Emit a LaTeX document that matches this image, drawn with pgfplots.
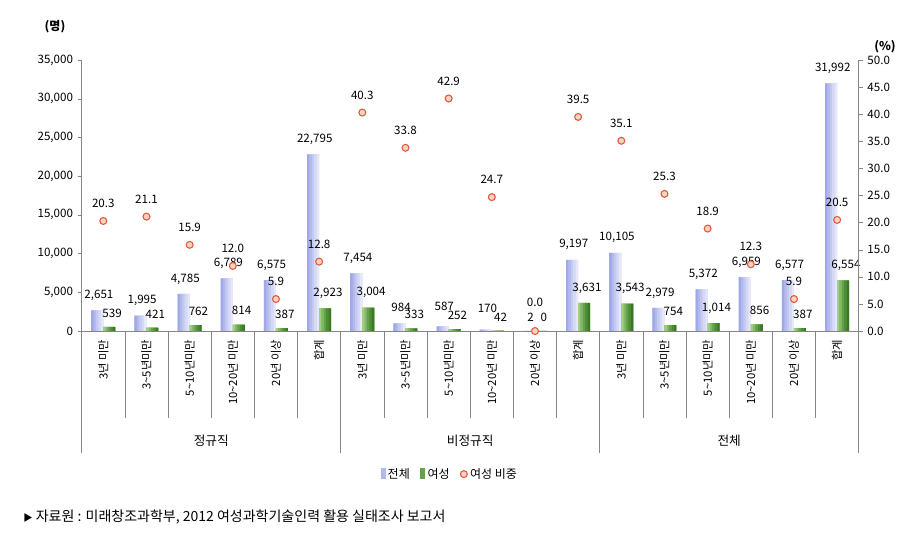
\documentclass[border=0pt]{standalone}
\usepackage{fontspec}
\setmainfont{Noto Sans CJK KR}
\usepackage{pgfplots}
\usepackage{pgfplotstable}
\pgfplotsset{compat=1.18}
\definecolor{axgray}{HTML}{868686}
\definecolor{bA}{HTML}{A0A8E8}
\definecolor{bB}{HTML}{B2B9EC}
\definecolor{bC}{HTML}{C3C9F1}
\definecolor{bD}{HTML}{D5D9F5}
\definecolor{bE}{HTML}{E6E8FA}
\definecolor{gA}{HTML}{A0CE82}
\definecolor{gB}{HTML}{82B866}
\definecolor{gC}{HTML}{64A24A}
\definecolor{gD}{HTML}{4D8D35}
\definecolor{gE}{HTML}{3A7824}
\definecolor{mkdraw}{HTML}{E2583A}
\definecolor{mkfill}{HTML}{FAD2C2}
\newcommand\fnum{\fontsize{8.7}{10}\selectfont}
\newcommand\tl{\textasciitilde}
\pgfplotstableread{
x total women ratio dyb dyg dyr
0 2651 539 20.3 0 0 0
1 1995 421 21.1 0 0 0
2 4785 762 15.9 0 0 0
3 6789 814 12.0 0 0 0
4 6575 387 5.9 0 0 0
5 22795 2923 12.8 0 0 0
6 7454 3004 40.3 0 0 0
7 984 333 33.8 1.5 0 0
8 587 252 42.9 5 0 0
9 170 42 24.7 5.5 0 0
10 2 0 0.0 0 0 8
11 9197 3631 39.5 0 0 0
12 10105 3543 35.1 0 0 0
13 2979 754 25.3 0 0 0
14 5372 1014 18.9 0 0 0
15 6959 856 12.3 0 0 0
16 6577 387 5.9 0 0 0
17 31992 6554 20.5 0 0 0
}\data
\begin{document}
\begin{tikzpicture}[x=1pt,y=1pt]
\useasboundingbox (0,0) rectangle (690,406.5);
\begin{axis}[
  at={(61.3pt,158.25pt)}, anchor=south west,
  scale only axis, width=582.75pt, height=203.25pt,
  xmin=-0.5, xmax=17.5, ymin=0, ymax=35000,
  axis x line*=bottom, axis y line*=left,
  axis line style={axgray, line width=0.6pt},
  ytick={0,5000,...,35000}, scaled y ticks=false,
  y tick style={axgray}, tick align=outside, major tick length=3pt,
  xtick={0,...,17}, x tick style={draw=none},
  xticklabels={3년 미만,3\tl5년미만,5\tl10년미만,10\tl20년 미만,20년 이상,합계,
               3년 미만,3\tl5년미만,5\tl10년미만,10\tl20년 미만,20년 이상,합계,
               3년 미만,3\tl5년미만,5\tl10년미만,10\tl20년 미만,20년 이상,합계},
  xticklabel style={rotate=90, anchor=east, font=\fontsize{8.5}{9}\selectfont},
  yticklabel style={font=\fnum},
  clip=false,
  /pgf/number format/1000 sep={,},
  /pgf/number format/assume math mode=true,
]
% blue bars (total)
\addplot[ybar, bar width=9pt, bar shift=-4.5pt, draw=none, fill=bC,
  visualization depends on={\thisrow{dyb} \as \dyb},
  nodes near coords, nodes near coords style={font=\fnum, inner sep=1pt, anchor=south, xshift=-3.3pt, yshift={(6+\dyb)*1pt}, text=black}]
  table[x=x,y=total]{\data};
\addplot[ybar, bar width=2pt, bar shift=-8.1pt, draw=none, fill=bA] table[x=x,y=total]{\data};
\addplot[ybar, bar width=2pt, bar shift=-6.3pt, draw=none, fill=bB] table[x=x,y=total]{\data};
\addplot[ybar, bar width=2pt, bar shift=-4.5pt, draw=none, fill=bC] table[x=x,y=total]{\data};
\addplot[ybar, bar width=2pt, bar shift=-2.7pt, draw=none, fill=bD] table[x=x,y=total]{\data};
\addplot[ybar, bar width=1.8pt, bar shift=-0.9pt, draw=none, fill=bE] table[x=x,y=total]{\data};
% green bars (women)
\addplot[ybar, bar width=9pt, bar shift=4.5pt, draw=none, fill=gC,
  visualization depends on={\thisrow{dyg} \as \dyg},
  nodes near coords, nodes near coords style={font=\fnum, inner sep=1pt, anchor=south, xshift=6.6pt, yshift={(6+\dyg)*1pt}, text=black}]
  table[x=x,y=women]{\data};
\addplot[ybar, bar width=2pt, bar shift=0.9pt, draw=none, fill=gA] table[x=x,y=women]{\data};
\addplot[ybar, bar width=2pt, bar shift=2.7pt, draw=none, fill=gB] table[x=x,y=women]{\data};
\addplot[ybar, bar width=2pt, bar shift=4.5pt, draw=none, fill=gC] table[x=x,y=women]{\data};
\addplot[ybar, bar width=2pt, bar shift=6.3pt, draw=none, fill=gD] table[x=x,y=women]{\data};
\addplot[ybar, bar width=1.8pt, bar shift=8.1pt, draw=none, fill=gE] table[x=x,y=women]{\data};
\pgfplotsinvokeforeach{0.5,1.5,2.5,3.5,4.5,6.5,7.5,8.5,9.5,10.5,12.5,13.5,14.5,15.5,16.5}{
  \draw[axgray, line width=0.6pt] (axis cs:#1,0) -- ([yshift=-65pt]axis cs:#1,0);
}
\pgfplotsinvokeforeach{-0.5,5.5,11.5,17.5}{
  \draw[axgray, line width=0.6pt] (axis cs:#1,0) -- ([yshift=-91.5pt]axis cs:#1,0);
}
\node[font=\fontsize{9.5}{10}\selectfont] at ([yshift=-82pt]axis cs:2.5,0) {정규직};
\node[font=\fontsize{9.5}{10}\selectfont] at ([yshift=-82pt]axis cs:8.5,0) {비정규직};
\node[font=\fontsize{9.5}{10}\selectfont] at ([yshift=-82pt]axis cs:14.5,0) {전체};
\end{axis}
\begin{axis}[
  at={(61.3pt,158.25pt)}, anchor=south west,
  scale only axis, width=582.75pt, height=203.25pt,
  xmin=-0.5, xmax=17.5, ymin=0, ymax=50,
  axis x line=none, axis y line*=right,
  axis line style={axgray, line width=0.6pt},
  ytick={0,5,...,50},
  y tick style={axgray}, tick align=outside, major tick length=3pt,
  yticklabel style={font=\fnum},
  clip=false,
  legend style={at={(0.474,-0.528)}, anchor=center, draw=none, fill=none,
    font=\fontsize{9}{10}\selectfont, legend columns=-1,
    /tikz/every even column/.append style={column sep=6pt}},
  /pgf/number format/fixed, /pgf/number format/fixed zerofill,
  /pgf/number format/precision=1,
  /pgf/number format/assume math mode=true,
]
\addlegendimage{legend image code/.code={\fill[bB] (0pt,-3pt) rectangle (3pt,4pt);}}
\addlegendentry{전체}
\addlegendimage{legend image code/.code={\fill[gC] (0pt,-3pt) rectangle (3pt,4pt);}}
\addlegendentry{여성}
\addplot[only marks, mark=*, mark size=2.6pt, mark options={draw=mkdraw, fill=mkfill, line width=0.8pt},
  visualization depends on={\thisrow{dyr} \as \dyr},
  nodes near coords, nodes near coords style={font=\fnum, inner sep=1pt, anchor=south, yshift={(8.5+\dyr)*1pt}, text=black}]
  table[x=x,y=ratio]{\data};
\addlegendentry{여성 비중}
\end{axis}
\node[font=\bfseries\fontsize{9}{10}\selectfont] at (41.25,386.25) {(명)};
\node[font=\bfseries\fontsize{9}{10}\selectfont] at (663.75,371.25) {(\%)};
\node[anchor=west, font=\fontsize{10.5}{12}\selectfont] at (14,18.75) {{\fontsize{7}{8}\selectfont ▶} 자료원 : 미래창조과학부, 2012 여성과학기술인력 활용 실태조사 보고서};
\end{tikzpicture}
\end{document}
